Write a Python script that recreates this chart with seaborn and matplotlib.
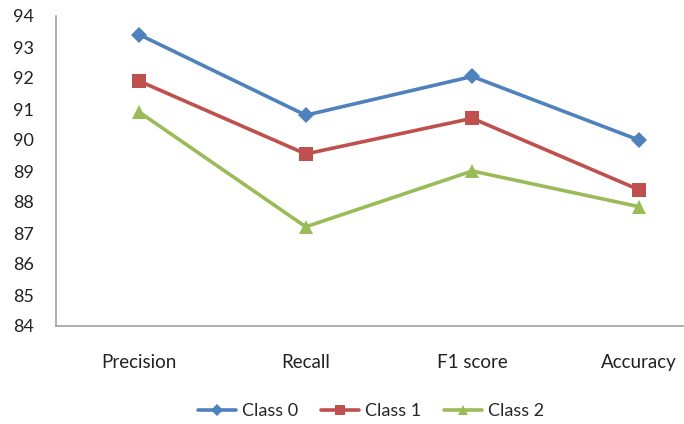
import pandas as pd
import seaborn as sns
import matplotlib.pyplot as plt

metrics = ['Precision', 'Recall', 'F1 score', 'Accuracy']
class0 = [93.4, 90.8, 92.05, 90.0]
class1 = [91.9, 89.55, 90.7, 88.4]
class2 = [90.9, 87.2, 89.0, 87.85]
series = ['Class 0', 'Class 1', 'Class 2']

rows = []
for name, vals in zip(series, [class0, class1, class2]):
    for m, v in zip(metrics, vals):
        rows.append({'metric': m, 'value': v, 'series': name})
df = pd.DataFrame(rows)

sns.set_style('white')
plt.rcParams['font.family'] = ['Lato', 'DejaVu Sans']

fig = plt.figure(figsize=(6.84, 4.24), dpi=100)
ax = fig.add_axes([56 / 684, 1 - 326 / 424, 666 / 684, 310 / 424])

palette = {'Class 0': '#4F81BD', 'Class 1': '#C0504D', 'Class 2': '#9BBB59'}
markers = {'Class 0': 'D', 'Class 1': 's', 'Class 2': '^'}
sizes = {'Class 0': 8, 'Class 1': 10, 'Class 2': 10}

for name in series:
    sub = df[df['series'] == name]
    sns.lineplot(data=sub, x='metric', y='value', ax=ax, color=palette[name],
                 marker=markers[name], markersize=sizes[name], markeredgewidth=0,
                 linewidth=2.6, label=name, sort=False)

ax.set_xlim(-0.5, 3.5)
ax.set_ylim(84, 94)
ax.set_yticks(range(84, 95))
ax.set_xlabel('')
ax.set_ylabel('')
ax.tick_params(axis='both', length=0, colors='#222222')
ax.tick_params(axis='x', pad=20, labelsize=13.5)
ax.tick_params(axis='y', pad=16, labelsize=13)
for s in ['top', 'right']:
    ax.spines[s].set_visible(False)
for s in ['left', 'bottom']:
    ax.spines[s].set_color('#A0A0A0')
    ax.spines[s].set_linewidth(1.2)

leg = ax.legend(loc='center', bbox_to_anchor=(371 / 684, 13 / 424),
                bbox_transform=fig.transFigure, ncol=3, frameon=False,
                fontsize=13, handlelength=2.1, columnspacing=1.3,
                handletextpad=0.3, markerscale=0.75)

fig.savefig('out.png', dpi=100)
